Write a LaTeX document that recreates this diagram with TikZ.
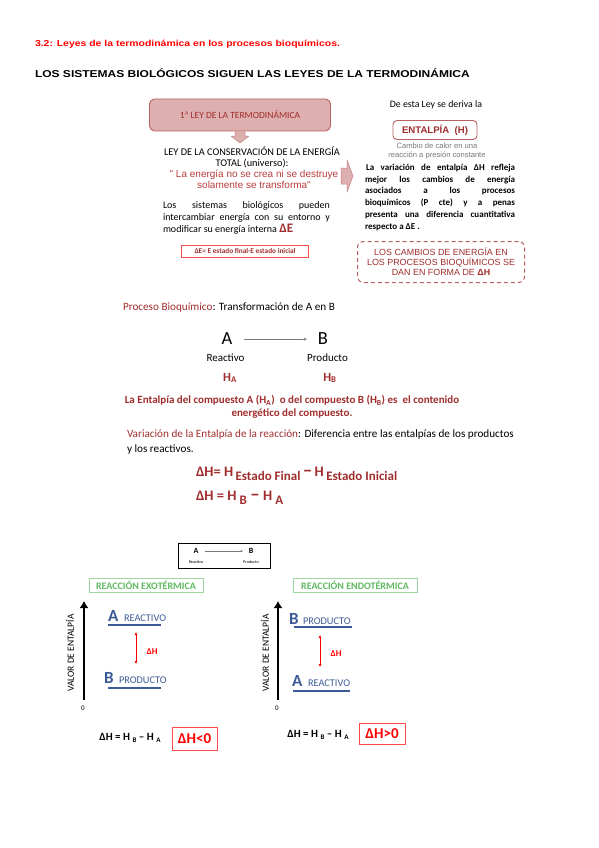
\documentclass[tikz,border=0pt]{standalone}
\usepackage{fontspec}
\setmainfont{Carlito}
\newfontfamily\arial{Liberation Sans}
\newfontfamily\arialancha[FakeStretch=1.2]{Liberation Sans}
\usetikzlibrary{arrows.meta}
\definecolor{vino}{RGB}{160,45,45}
\definecolor{cita}{RGB}{185,60,60}
\definecolor{rosa}{RGB}{222,175,175}
\definecolor{azul}{RGB}{60,90,150}
\definecolor{verde}{RGB}{95,185,95}
\definecolor{gris}{RGB}{120,120,120}
\def\fs#1{\fontsize{#1}{#1}\selectfont}
\def\guion{{\fs{19}–}}

\begin{document}
\begin{tikzpicture}[x=1pt,y=-1pt,every node/.style={inner sep=0pt, outer sep=0pt},
  pinkbox/.style={draw=vino!75, fill=rosa, rounded corners=5pt, line width=0.9pt},
  blockarrow/.style={draw=vino!60, fill=rosa, line width=0.5pt},
  greenbox/.style={draw=verde!60, line width=0.6pt, text=verde, font=\bfseries\fs{10}, minimum height=14pt},
  redbox/.style={draw=red!70, line width=0.7pt, text=red, font=\bfseries\fs{15}},
  nivel/.style={azul, line width=1.2pt},
  eje/.style={line width=2.2pt, -{Latex[length=7pt,width=9pt]}},
  deltah/.style={red, line width=0.9pt, {Latex[length=3pt,width=3pt]}-{Latex[length=3pt,width=3pt]}},
  letra/.style={text=azul, font=\bfseries\fs{17}},
  etiqueta/.style={text=azul, font=\fs{10.3}},
  formulita/.style={font=\bfseries\fs{11}}]
\useasboundingbox (0,0) rectangle (599,848);

% encabezado
\node[anchor=west, text=red, font=\arialancha\bfseries\fs{8.7}] (titulo) at (35,44) {3.2: Leyes de la termodinámica en los procesos bioquímicos.};
\node[anchor=west, font=\arialancha\bfseries\fs{10}] (subtitulo) at (35,73) {LOS SISTEMAS BIOLÓGICOS SIGUEN LAS LEYES DE LA TERMODINÁMICA};

% columna izquierda
\node[pinkbox, minimum width=181pt, minimum height=32pt, text=vino, font=\fs{9.5}] (ley1) at (240,115) {1ª LEY DE LA TERMODINÁMICA};
\filldraw[blockarrow] (235,132) -- (245,132) -- (245,136) -- (249,136) -- (240,143) -- (231,136) -- (235,136) -- cycle;
\node[align=center, font=\fontsize{10.3}{11}\selectfont] (conserv) at (252,157) {LEY DE LA CONSERVACIÓN DE LA ENERGÍA\\TOTAL (universo):};
\node[align=center, text=cita, font=\arial\fontsize{10}{11.2}\selectfont] (cita1) at (254,179) {" La energía no se crea ni se destruye\\solamente se transforma"};
\node[anchor=north west, text width=167pt, align=justify, font=\fontsize{10}{11.8}\selectfont] (parrafo1) at (163,202)
  {Los sistemas biológicos pueden\linebreak intercambiar energía con su entorno y\linebreak modificar su energía interna {\color{vino}\bfseries\fs{13}ΔE}};
\node[draw=red!70, line width=0.6pt, minimum width=127pt, minimum height=12pt, text=vino, font=\bfseries\fs{7.3}] (deltae) at (245,251) {ΔE= E estado final-E estado inicial};
\filldraw[blockarrow] (341,168) -- (347,168) -- (347,160) -- (353,176) -- (347,192) -- (347,184) -- (341,184) -- cycle;

% columna derecha
\node[font=\fs{9.8}] (deriva) at (436,105) {De esta Ley se deriva la};
\node[draw=vino!75, rounded corners=4pt, line width=0.9pt, minimum width=84pt, minimum height=19pt, text=vino, font=\arial\bfseries\fs{9.6}] (entalpia) at (435,130) {ENTALPÍA\ \ (H)};
\node[align=center, text=gris, font=\arial\fontsize{7.6}{8.5}\selectfont] (calor) at (437,151) {Cambio de calor en una\\reacción a presión constante};
\node[anchor=north west, text width=150pt, align=justify, font=\bfseries\fontsize{9}{11.8}\selectfont] (parrafo2) at (365,164)
  {\hspace*{1pt}La variación de entalpía ΔH refleja\linebreak mejor los cambios de energía\linebreak asociados a los procesos\linebreak bioquímicos (P cte) y a penas\linebreak presenta una diferencia cuantitativa\linebreak respecto a ΔE .};
\node[draw=vino!75, dashed, dash pattern=on 4pt off 3pt, rounded corners=6pt, line width=1pt, minimum width=167pt, minimum height=41pt,
  align=center, text=vino, font=\arial\fontsize{8.9}{10}\selectfont] (cambios) at (441,262) {LOS CAMBIOS DE ENERGÍA EN\\LOS PROCESOS BIOQUÍMICOS SE\\DAN EN FORMA DE {\bfseries ΔH}};

% proceso A -> B
\node[anchor=west, font=\fs{11.2}] (proceso) at (123,308) {{\color{vino}Proceso Bioquímico}: Transformación de A en B};
\node[font=\fs{18.5}] (A) at (227,339) {A};
\node[font=\fs{18.5}] (B) at (323,339) {B};
\draw[gris, line width=0.5pt, -{Stealth[length=3pt,width=3pt]}, shorten <=12pt, shorten >=11pt] (A) -- (B);
\node[font=\fs{11}] (reactivo) at (225.5,358) {Reactivo};
\node[font=\fs{11}] (producto) at (327.5,358) {Producto};
\node[text=vino, font=\bfseries\fs{12.5}] (HA) at (230,378) {H\textsubscript{A}};
\node[text=vino, font=\bfseries\fs{12.5}] (HB) at (330,378) {H\textsubscript{B}};
\node[align=center, text=vino, font=\bfseries\fontsize{11}{13}\selectfont] (compuesto) at (292,407) {La Entalpía del compuesto A (H\textsubscript{A})\ \ o del compuesto B (H\textsubscript{B}) es\ \ el contenido\\energético del compuesto.};

% variacion de entalpia
\node[anchor=north west, align=left, font=\fontsize{11.2}{14.5}\selectfont] (variacion) at (127,430) {{\color{vino}Variación de la Entalpía de la reacción}: Diferencia entre las entalpías de los productos\\y los reactivos.};
\node[anchor=west, text=vino, font=\bfseries\fs{14.5}] (formula1) at (196,474) {ΔH= H\,\raisebox{-3.5pt}{\fs{13}Estado Final}\,\guion\,H\,\raisebox{-3.5pt}{\fs{13}Estado Inicial}};
\node[anchor=west, text=vino, font=\bfseries\fs{14.5}] (formula2) at (196,498) {ΔH = H\ \raisebox{-3.5pt}{\fs{13}B}\ \guion\ H\ \raisebox{-3.5pt}{\fs{13}A}};

% recuadro A -> B
\node[draw, line width=0.9pt, minimum width=92pt, minimum height=25pt] (leyenda) at (224,556) {};
\node[font=\bfseries\fs{8}] (Ap) at (196,551) {A};
\node[font=\bfseries\fs{8}] (Bp) at (251,551) {B};
\draw[gris, line width=0.4pt, -{Stealth[length=2pt,width=2pt]}, shorten <=7pt, shorten >=6pt] (Ap) -- (Bp);
\node[font=\fs{4.2}] (reactivoP) at (196,562) {Reactivo};
\node[font=\fs{4.2}] (productoP) at (251,562) {Producto};

% reaccion exotermica
\node[greenbox, minimum width=114pt] (exo) at (146,585) {REACCIÓN EXOTÉRMICA};
\coordinate (exo0) at (84,700);
\coordinate (exoTop) at (84,601);
\draw[eje] (exo0) -- (exoTop);
\node (exoCero) at (83,708) {\fs{7}0};
\node[rotate=90, font=\fs{9.5}] (exoValor) at (70,653) {VALOR DE ENTALPÍA};
\node[letra, anchor=base west] (exoA) at (108,621) {A};
\node[etiqueta, anchor=base west] (exoAt) at (124,621) {REACTIVO};
\coordinate (exoA1) at (108,625);
\coordinate (exoA2) at (161,625);
\draw[nivel] (exoA1) -- (exoA2);
\node[letra, anchor=base west] (exoB) at (104,683) {B};
\node[etiqueta, anchor=base west] (exoBt) at (119,683) {PRODUCTO};
\coordinate (exoB1) at (108,688);
\coordinate (exoB2) at (161,688);
\draw[nivel] (exoB1) -- (exoB2);
\coordinate (exoD1) at (136,632);
\coordinate (exoD2) at (136,664);
\draw[deltah] (exoD1) -- (exoD2);
\node[text=red, font=\bfseries\fs{9}] (exoDH) at (152,652) {ΔH};
\node[formulita] (exoForm) at (130,738) {ΔH = H\ \raisebox{-2pt}{\fs{7}B}\ – H\ \raisebox{-2pt}{\fs{7}A}};
\node[redbox, minimum width=45pt, minimum height=23pt] (exoSigno) at (194.5,738.5) {ΔH<0};

% reaccion endotermica
\node[greenbox, minimum width=124pt] (endo) at (355,585) {REACCIÓN ENDOTÉRMICA};
\coordinate (endo0) at (278,700);
\coordinate (endoTop) at (278,601);
\draw[eje] (endo0) -- (endoTop);
\node (endoCero) at (277,708) {\fs{7}0};
\node[rotate=90, font=\fs{9.5}] (endoValor) at (265,653) {VALOR DE ENTALPÍA};
\node[letra, anchor=base west] (endoB) at (289,624) {B};
\node[etiqueta, anchor=base west] (endoBt) at (303,624) {PRODUCTO};
\coordinate (endoB1) at (294,627);
\coordinate (endoB2) at (352,627);
\draw[nivel] (endoB1) -- (endoB2);
\coordinate (endoD1) at (320,635);
\coordinate (endoD2) at (320,667);
\draw[deltah] (endoD1) -- (endoD2);
\node[text=red, font=\bfseries\fs{9}] (endoDH) at (336,654) {ΔH};
\node[letra, anchor=base west] (endoA) at (292,686) {A};
\node[etiqueta, anchor=base west] (endoAt) at (308,686) {REACTIVO};
\coordinate (endoA1) at (293,691);
\coordinate (endoA2) at (350,691);
\draw[nivel] (endoA1) -- (endoA2);
\node[formulita] (endoForm) at (318,735) {ΔH = H\ \raisebox{-2pt}{\fs{7}B}\ – H\ \raisebox{-2pt}{\fs{7}A}};
\node[redbox, minimum width=46pt, minimum height=21pt] (endoSigno) at (382,733.5) {ΔH>0};
\end{tikzpicture}
\end{document}
